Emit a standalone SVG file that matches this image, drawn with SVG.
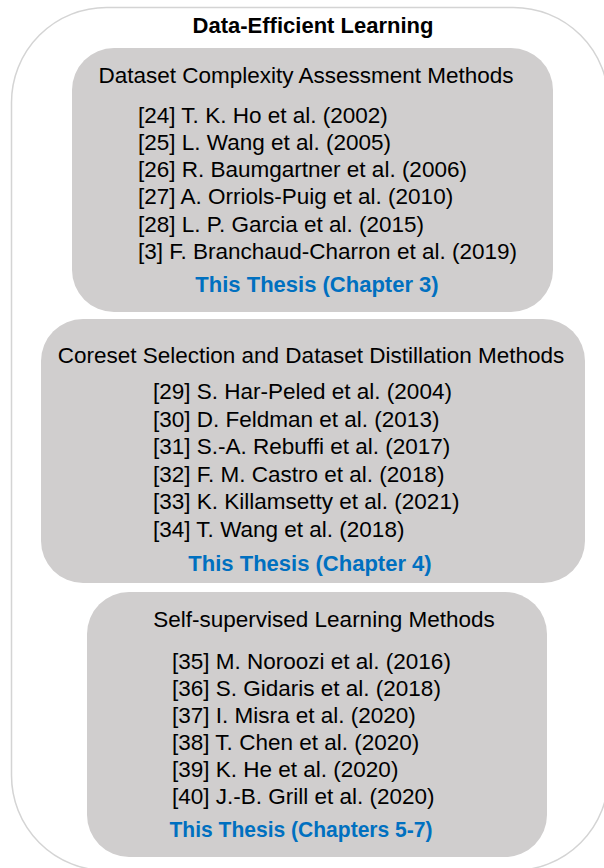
<svg xmlns="http://www.w3.org/2000/svg" width="604" height="868" viewBox="0 0 604 868">
<style>
.outer{fill:#ffffff;stroke:#d4d4d4;stroke-width:1.5}
.box{fill:#d0cece;stroke:none}
.t{font-family:"Liberation Sans",Arial,sans-serif;font-size:22.5px;fill:#000}
.h{text-anchor:middle}
.b{font-weight:bold;font-size:22px}
.blue{font-family:"Liberation Sans",Arial,sans-serif;font-size:22px;font-weight:bold;fill:#0070c0;text-anchor:middle}
</style>
<rect width="604" height="868" fill="#ffffff"/>
<g id="outer">
<rect class="outer" x="11.5" y="7.5" width="597" height="863" rx="95" ry="95"/>
<text class="t h b" x="313" y="33">Data-Efficient Learning</text>
</g>
<g id="box1">
<rect class="box" x="72" y="48" width="481" height="264" rx="42" ry="42"/>
<text class="t h" x="306" y="83">Dataset Complexity Assessment Methods</text>
<text class="t" x="138" y="123">[24] T. K. Ho et al. (2002)</text>
<text class="t" x="138" y="150">[25] L. Wang et al. (2005)</text>
<text class="t" x="138" y="177">[26] R. Baumgartner et al. (2006)</text>
<text class="t" x="138" y="204">[27] A. Orriols-Puig et al. (2010)</text>
<text class="t" x="138" y="232">[28] L. P. Garcia et al. (2015)</text>
<text class="t" x="138" y="259">[3] F. Branchaud-Charron et al. (2019)</text>
<text class="blue" x="317" y="292">This Thesis (Chapter 3)</text>
</g>
<g id="box2">
<rect class="box" x="41" y="319" width="544" height="264" rx="42" ry="42"/>
<text class="t h" x="311" y="363">Coreset Selection and Dataset Distillation Methods</text>
<text class="t" x="153" y="399">[29] S. Har-Peled et al. (2004)</text>
<text class="t" x="153" y="427">[30] D. Feldman et al. (2013)</text>
<text class="t" x="153" y="454">[31] S.-A. Rebuffi et al. (2017)</text>
<text class="t" x="153" y="482">[32] F. M. Castro et al. (2018)</text>
<text class="t" x="153" y="509">[33] K. Killamsetty et al. (2021)</text>
<text class="t" x="153" y="537">[34] T. Wang et al. (2018)</text>
<text class="blue" x="310" y="571">This Thesis (Chapter 4)</text>
</g>
<g id="box3">
<rect class="box" x="87" y="592" width="460" height="265" rx="42" ry="42"/>
<text class="t h" x="324" y="627">Self-supervised Learning Methods</text>
<text class="t" x="172" y="669">[35] M. Noroozi et al. (2016)</text>
<text class="t" x="172" y="696">[36] S. Gidaris et al. (2018)</text>
<text class="t" x="172" y="723">[37] I. Misra et al. (2020)</text>
<text class="t" x="172" y="750">[38] T. Chen et al. (2020)</text>
<text class="t" x="172" y="777">[39] K. He et al. (2020)</text>
<text class="t" x="172" y="804">[40] J.-B. Grill et al. (2020)</text>
<text class="blue" x="301" y="837" textLength="263" lengthAdjust="spacingAndGlyphs">This Thesis (Chapters 5-7)</text>
</g>
<g id="connectors"></g>
</svg>
